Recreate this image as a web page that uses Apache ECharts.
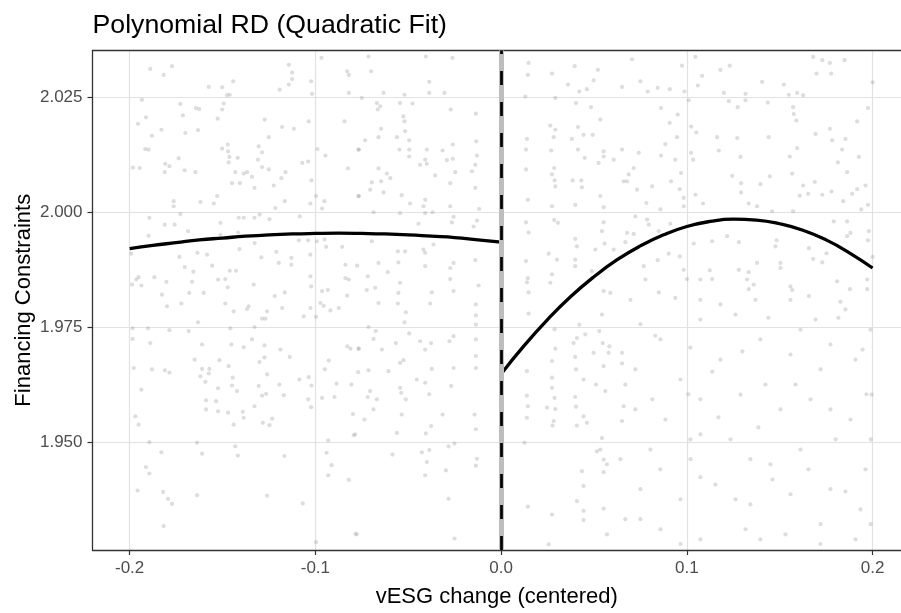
<!DOCTYPE html>
<html>
<head>
<meta charset="utf-8">
<script src="https://cdn.jsdelivr.net/npm/echarts@6/dist/echarts.min.js"></script>
<style>
html,body{margin:0;padding:0;background:#fff;}
#chart{width:901px;height:613px;}
</style>
</head>
<body>
<div id="chart"></div>
<script>
// ---- data ----
const titleText = 'Polynomial RD (Quadratic Fit)';
const xAxisTitle = 'vESG change (centered)';
const yAxisTitle = 'Financing Constraints';
const xTicks = [-0.2, -0.1, 0.0, 0.1, 0.2];
const yTicks = [1.950, 1.975, 2.000, 2.025];
const xRange = [-0.22, 0.2153];   // the panel's right edge is cut off by the image
const yRange = [1.9267, 2.0351];
const cutoff = 0;

const leftFitX = [-0.2, -0.1875, -0.175, -0.1625, -0.15, -0.1375, -0.125, -0.1125, -0.1, -0.0875, -0.075, -0.0625, -0.05, -0.0375, -0.025, -0.0125, 0];
const leftFitY = [1.9921, 1.9928, 1.9934, 1.9940, 1.9944, 1.9948, 1.9951, 1.9953, 1.9954, 1.99545, 1.9954, 1.9953, 1.9951, 1.9948, 1.9945, 1.9940, 1.9935];
const rightFitX = [0, 0.0125, 0.025, 0.0375, 0.05, 0.0625, 0.075, 0.0875, 0.1, 0.1125, 0.125, 0.1375, 0.15, 0.1625, 0.175, 0.1875, 0.2];
const rightFitY = [1.9649, 1.9711, 1.9767, 1.9817, 1.9860, 1.9897, 1.9927, 1.9951, 1.9969, 1.9980, 1.9985, 1.9983, 1.9975, 1.9961, 1.9940, 1.9912, 1.9879];

const scatterPoints = [
[-0.1889,2.0311],[-0.1817,2.0298],[-0.1772,2.0317],[-0.1574,2.0272],[-0.1502,2.0271],[-0.1443,2.0284],[-0.1461,2.0255],[-0.1476,2.0254],
[-0.1143,2.0320],[-0.1125,2.0303],[-0.1125,2.0289],[-0.1143,2.0277],[-0.1192,2.0266],[-0.1023,2.0284],[-0.1018,2.0257],[-0.0967,2.0335],
[-0.0829,2.0306],[-0.0820,2.0298],[-0.0820,2.0259],[-0.1934,2.0244],[-0.1727,2.0235],[-0.1643,2.0226],[-0.1625,2.0224],[-0.1494,2.0236],
[-0.1502,2.0223],[-0.1713,2.0210],[-0.1955,2.0192],[-0.1912,2.0206],[-0.1829,2.0179],[-0.1880,2.0166],[-0.1700,2.0172],[-0.1632,2.0178],
[-0.1526,2.0203],[-0.1273,2.0201],[-0.1179,2.0185],[-0.1116,2.0181],[-0.1036,2.0197],[-0.1251,2.0163],[-0.0843,2.0197],[-0.1898,2.0136],
[-0.1916,2.0137],[-0.1736,2.0117],[-0.1808,2.0105],[-0.1786,2.0100],[-0.1811,2.0087],[-0.1704,2.0091],[-0.1646,2.0087],[-0.1982,2.0097],
[-0.1946,2.0096],[-0.1502,2.0138],[-0.1472,2.0147],[-0.1470,2.0132],[-0.1463,2.0120],[-0.1467,2.0108],[-0.1418,2.0118],[-0.1305,2.0143],
[-0.1287,2.0130],[-0.1309,2.0114],[-0.1287,2.0098],[-0.1251,2.0093],[-0.1431,2.0087],[-0.1386,2.0084],[-0.1368,2.0087],[-0.1341,2.0077],
[-0.1449,2.0063],[-0.1407,2.0063],[-0.1328,2.0053],[-0.1224,2.0058],[-0.1183,2.0074],[-0.1161,2.0087],[-0.1071,2.0107],[-0.1039,2.0110],
[-0.1021,2.0069],[-0.0989,2.0137],[-0.0946,2.0123],[-0.0825,2.0095],[-0.0766,2.0136],[-0.1763,2.0024],[-0.1763,2.0013],[-0.1619,2.0022],
[-0.1547,2.0019],[-0.1529,2.0035],[-0.1215,2.0009],[-0.1165,2.0024],[-0.1027,2.0019],[-0.0996,2.0035],[-0.0951,2.0024],[-0.0964,2.0008],
[-0.0766,2.0035],[-0.1894,1.9988],[-0.1811,1.9973],[-0.1758,1.9973],[-0.1727,1.9996],[-0.1686,1.9959],[-0.1511,1.9977],[-0.1413,1.9988],
[-0.1386,1.9988],[-0.1328,1.9988],[-0.1300,1.9995],[-0.1247,1.9985],[-0.1084,1.9991],[-0.1898,1.9949],[-0.1511,1.9951],[-0.1416,1.9956],
[-0.1327,1.9933],[-0.1089,1.9939],[-0.1039,1.9939],[-0.0992,1.9937],[-0.0951,1.9941],[-0.0942,1.9925],[-0.0856,1.9925],[-0.1991,1.9910],
[-0.1732,1.9903],[-0.1635,1.9912],[-0.1583,1.9908],[-0.1409,1.9920],[-0.1291,1.9902],[-0.1210,1.9914],[-0.1197,1.9890],[-0.1129,1.9901],
[-0.1129,1.9886],[-0.1027,1.9908],[-0.0838,1.9886],[-0.0775,1.9884],[-0.1704,1.9881],[-0.1657,1.9871],[-0.1556,1.9884],[-0.1461,1.9873],
[-0.1427,1.9873],[-0.1952,1.9859],[-0.1964,1.9854],[-0.1867,1.9859],[-0.1802,1.9849],[-0.1664,1.9849],[-0.1524,1.9854],[-0.1485,1.9855],
[-0.1987,1.9843],[-0.1937,1.9841],[-0.1826,1.9821],[-0.1679,1.9825],[-0.1601,1.9825],[-0.1472,1.9837],[-0.1332,1.9843],[-0.1219,1.9818],
[-0.1165,1.9826],[-0.1027,1.9861],[-0.1023,1.9839],[-0.0964,1.9829],[-0.0933,1.9831],[-0.0838,1.9857],[-0.0820,1.9854],[-0.0829,1.9819],
[-0.0714,2.0338],[-0.0700,2.0306],[-0.0405,2.0338],[-0.0262,2.0335],[-0.0387,2.0283],[-0.0633,2.0259],[-0.0520,2.0255],[-0.0387,2.0259],
[-0.0305,2.0259],[-0.0750,2.0248],[-0.0669,2.0237],[-0.0651,2.0230],[-0.0664,2.0223],[-0.0544,2.0237],[-0.0477,2.0236],[-0.0271,2.0223],
[-0.0136,2.0214],[-0.0526,2.0208],[-0.0520,2.0197],[-0.0646,2.0181],[-0.0660,2.0163],[-0.0732,2.0156],[-0.0561,2.0163],[-0.0517,2.0176],
[-0.0495,2.0156],[-0.0134,2.0154],[-0.0260,2.0147],[-0.0768,2.0136],[-0.0547,2.0136],[-0.0495,2.0136],[-0.0400,2.0136],[-0.0315,2.0134],
[-0.0495,2.0121],[-0.0409,2.0114],[-0.0292,2.0113],[-0.0260,2.0116],[-0.0130,2.0123],[-0.0660,2.0095],[-0.0615,2.0084],[-0.0597,2.0074],
[-0.0696,2.0065],[-0.0646,2.0067],[-0.0436,2.0103],[-0.0400,2.0105],[-0.0355,2.0080],[-0.0247,2.0087],[-0.0274,2.0063],[-0.0139,2.0103],
[-0.0157,2.0089],[-0.0705,2.0049],[-0.0633,2.0043],[-0.0535,2.0037],[-0.0768,2.0035],[-0.0490,2.0019],[-0.0409,2.0027],[-0.0418,2.0013],
[-0.0274,2.0013],[-0.0139,2.0053],[-0.0118,2.0007],[-0.0687,2.0000],[-0.0544,1.9998],[-0.0409,1.9998],[-0.0369,2.0000],[-0.0445,1.9975],
[-0.0265,1.9978],[-0.0256,1.9990],[-0.0148,1.9969],[-0.0130,1.9982],[-0.0696,1.9937],[-0.0517,1.9915],[-0.0418,1.9919],[-0.0409,1.9912],
[-0.0364,1.9930],[-0.0556,1.9915],[-0.0660,1.9890],[-0.0553,1.9891],[-0.0409,1.9883],[-0.0256,1.9890],[-0.0274,1.9879],[-0.0139,1.9896],
[-0.0718,1.9861],[-0.0610,1.9870],[-0.0544,1.9847],[-0.0678,1.9836],[-0.0723,1.9831],[-0.0553,1.9825],[-0.0373,1.9826],[-0.0256,1.9829],
[-0.0121,1.9841],[-0.0274,1.9855],
[0.0148,2.0324],[0.0144,2.0298],[0.0274,2.0301],[0.0396,2.0317],[0.0521,2.0309],[0.0498,2.0286],[0.0360,2.0277],[0.0421,2.0262],
[0.0462,2.0267],[0.0651,2.0272],[0.0130,2.0251],[0.0292,2.0248],[0.0403,2.0237],[0.0484,2.0228],[0.0534,2.0201],[0.0265,2.0188],
[0.0292,2.0179],[0.0414,2.0185],[0.0444,2.0168],[0.0493,2.0168],[0.0139,2.0159],[0.0283,2.0163],[0.0381,2.0159],[0.0134,2.0136],
[0.0270,2.0134],[0.0414,2.0136],[0.0450,2.0118],[0.0552,2.0132],[0.0552,2.0121],[0.0525,2.0107],[0.0606,2.0114],[0.0651,2.0136],
[0.0134,2.0093],[0.0286,2.0096],[0.0274,2.0082],[0.0288,2.0069],[0.0292,2.0056],[0.0385,2.0069],[0.0432,2.0069],[0.0435,2.0054],
[0.0660,2.0067],[0.0144,2.0027],[0.0274,2.0013],[0.0399,2.0016],[0.0534,2.0035],[0.0552,2.0011],[0.0134,1.9978],[0.0148,1.9956],
[0.0286,1.9983],[0.0306,1.9977],[0.0399,1.9942],[0.0543,1.9959],[0.0552,1.9978],[0.0507,1.9919],[0.0408,1.9926],[0.0256,1.9910],
[0.0301,1.9897],[0.0399,1.9897],[0.0557,1.9932],[0.0606,1.9919],[0.0134,1.9894],[0.0144,1.9857],[0.0139,1.9848],[0.0148,1.9826],
[0.0274,1.9865],[0.0265,1.9847],[0.0399,1.9883],[0.0489,1.9872],[0.0588,1.9825],[0.0552,1.9829],
[0.0705,2.0332],[0.0974,2.0318],[0.1046,2.0337],[0.1181,2.0309],[0.1231,2.0318],[0.1082,2.0296],[0.1059,2.0275],[0.0750,2.0284],
[0.0843,2.0270],[0.0908,2.0267],[0.0789,2.0262],[0.0987,2.0262],[0.1199,2.0259],[0.1316,2.0257],[0.1405,2.0283],[0.1522,2.0277],
[0.1680,2.0337],[0.1729,2.0330],[0.1770,2.0324],[0.1849,2.0330],[0.1698,2.0301],[0.1777,2.0301],[0.1549,2.0255],[0.1594,2.0259],
[0.1626,2.0254],[0.2000,2.0282],[0.1010,2.0243],[0.1226,2.0241],[0.1316,2.0243],[0.1274,2.0228],[0.1436,2.0238],[0.1572,2.0228],
[0.1576,2.0213],[0.1590,2.0199],[0.0861,2.0226],[0.0951,2.0212],[0.0908,2.0194],[0.1917,2.0197],[0.1975,2.0226],[0.1770,2.0181],
[0.1023,2.0186],[0.1051,2.0173],[0.1163,2.0163],[0.1271,2.0161],[0.1441,2.0163],[0.1693,2.0170],[0.1782,2.0156],[0.1854,2.0159],
[0.0947,2.0163],[0.0884,2.0148],[0.0741,2.0129],[0.0861,2.0123],[0.0938,2.0114],[0.1023,2.0129],[0.1034,2.0114],[0.1172,2.0134],
[0.1289,2.0120],[0.1554,2.0121],[0.1594,2.0139],[0.1836,2.0136],[0.1926,2.0120],[0.0714,2.0096],[0.0687,2.0082],[0.0678,2.0067],
[0.0969,2.0085],[0.1244,2.0079],[0.1447,2.0078],[0.1567,2.0084],[0.1813,2.0108],[0.1863,2.0087],[0.0732,2.0049],[0.0813,2.0056],
[0.0915,2.0067],[0.0962,2.0050],[0.1046,2.0038],[0.0983,2.0031],[0.1292,2.0063],[0.1292,2.0043],[0.1396,2.0061],[0.1626,2.0058],
[0.1689,2.0066],[0.1608,2.0036],[0.1653,2.0040],[0.1729,2.0038],[0.1779,2.0045],[0.1890,2.0040],[0.1917,2.0050],[0.1962,2.0058],
[0.1975,2.0016],[0.1842,2.0024],[0.0782,2.0020],[0.0858,2.0006],[0.0983,2.0013],[0.1087,2.0019],[0.1333,2.0019],[0.1378,2.0013],
[0.1459,2.0002],[0.1572,2.0002],[0.1939,2.0006],[0.0723,1.9991],[0.0786,1.9984],[0.0795,1.9973],[0.0911,1.9975],[0.0849,1.9959],
[0.0678,1.9955],[0.0714,1.9953],[0.1791,1.9980],[0.1863,1.9980],[0.1980,1.9959],[0.1975,1.9939],[0.1037,1.9932],[0.1136,1.9937],
[0.1217,1.9948],[0.1280,1.9935],[0.1477,1.9926],[0.1483,1.9939],[0.1657,1.9922],[0.1752,1.9911],[0.1863,1.9948],[0.1881,1.9955],
[0.0669,1.9935],[0.0768,1.9883],[0.0843,1.9896],[0.0902,1.9910],[0.0962,1.9904],[0.0983,1.9875],[0.1001,1.9855],[0.0777,1.9854],
[0.1123,1.9874],[0.1136,1.9855],[0.1280,1.9875],[0.1333,1.9870],[0.1378,1.9890],[0.1504,1.9890],[0.1504,1.9879],[0.1680,1.9899],
[0.1729,1.9891],[0.1809,1.9850],[0.1878,1.9833],[0.1971,1.9854],[0.2000,1.9903],[0.1073,1.9854],[0.1324,1.9854],[0.1333,1.9833],
[0.1360,1.9843],[0.1558,1.9839],[0.1567,1.9831],[0.1657,1.9818],[0.0849,1.9826],[0.0938,1.9814],[0.1971,1.9833],
[-0.1799,1.9796],[-0.1722,1.9802],[-0.1485,1.9802],[-0.1440,1.9785],[-0.1359,1.9796],[-0.1368,1.9790],[-0.1260,1.9785],[-0.1179,1.9792],
[-0.1287,1.9769],[-0.1269,1.9769],[-0.1063,1.9774],[-0.1027,1.9792],[-0.0973,1.9803],[-0.0955,1.9797],[-0.0919,1.9787],[-0.0874,1.9792],
[-0.0996,1.9773],[-0.1632,1.9761],[-0.1984,1.9748],[-0.1901,1.9748],[-0.1786,1.9744],[-0.1682,1.9742],[-0.1458,1.9748],[-0.1328,1.9751],
[-0.1984,1.9725],[-0.1889,1.9716],[-0.1610,1.9713],[-0.1452,1.9713],[-0.1386,1.9707],[-0.1341,1.9724],[-0.1274,1.9711],[-0.1188,1.9702],
[-0.0829,1.9709],[-0.0811,1.9704],[-0.0766,1.9704],[-0.1650,1.9680],[-0.1517,1.9679],[-0.1467,1.9666],[-0.1301,1.9675],[-0.1274,1.9685],
[-0.1138,1.9686],[-0.0928,1.9678],[-0.1978,1.9662],[-0.1880,1.9659],[-0.1811,1.9657],[-0.1786,1.9652],[-0.1610,1.9660],[-0.1571,1.9660],
[-0.1619,1.9644],[-0.1592,1.9632],[-0.1574,1.9650],[-0.1445,1.9641],[-0.1449,1.9624],[-0.1422,1.9612],[-0.1524,1.9618],[-0.1305,1.9623],
[-0.1287,1.9602],[-0.1265,1.9606],[-0.1260,1.9648],[-0.1194,1.9626],[-0.1170,1.9603],[-0.1086,1.9637],[-0.1036,1.9642],[-0.1021,1.9624],
[-0.0949,1.9659],[-0.0886,1.9628],[-0.0806,1.9626],[-0.0770,1.9653],[-0.1937,1.9615],[-0.1589,1.9592],[-0.1535,1.9590],[-0.1524,1.9568],
[-0.1470,1.9565],[-0.1589,1.9572],[-0.1391,1.9567],[-0.1386,1.9554],[-0.1440,1.9539],[-0.1328,1.9579],[-0.1283,1.9543],[-0.1247,1.9538],
[-0.1233,1.9552],[-0.1039,1.9594],[-0.1023,1.9577],[-0.0964,1.9597],[-0.0897,1.9599],[-0.0798,1.9562],[-0.1969,1.9557],[-0.1952,1.9539],
[-0.1894,1.9501],[-0.1829,1.9479],[-0.1637,1.9500],[-0.1610,1.9476],[-0.1431,1.9492],[-0.1418,1.9472],[-0.1167,1.9471],[-0.0931,1.9505],
[-0.0940,1.9478],[-0.0793,1.9516],[-0.0913,1.9451],[-0.0931,1.9429],[-0.0820,1.9419],[-0.1912,1.9447],[-0.1894,1.9433],[-0.1957,1.9396],
[-0.1820,1.9393],[-0.1793,1.9378],[-0.1772,1.9367],[-0.1637,1.9386],[-0.1260,1.9385],[-0.1068,1.9368],[-0.1817,1.9319],[-0.0996,1.9284],
[-0.0784,1.9302],
[-0.0660,1.9803],[-0.0556,1.9802],[-0.0382,1.9802],[-0.0136,1.9800],[-0.0513,1.9783],[-0.0520,1.9761],[-0.0136,1.9776],[-0.0136,1.9756],
[-0.0714,1.9751],[-0.0675,1.9742],[-0.0495,1.9737],[-0.0687,1.9725],[-0.0567,1.9716],[-0.0436,1.9720],[-0.0409,1.9702],[-0.0377,1.9716],
[-0.0278,1.9720],[-0.0256,1.9731],[-0.0136,1.9724],[-0.0768,1.9704],[-0.0642,1.9702],[-0.0544,1.9673],[-0.0526,1.9679],[-0.0714,1.9657],
[-0.0606,1.9655],[-0.0373,1.9660],[-0.0256,1.9662],[-0.0136,1.9688],[-0.0136,1.9662],[-0.0454,1.9637],[-0.0409,1.9630],[-0.0269,1.9623],
[-0.0705,1.9612],[-0.0718,1.9599],[-0.0669,1.9594],[-0.0544,1.9619],[-0.0538,1.9608],[-0.0513,1.9594],[-0.0387,1.9605],[-0.0687,1.9572],
[-0.0736,1.9550],[-0.0535,1.9561],[-0.0315,1.9561],[-0.0143,1.9561],[-0.0561,1.9521],[-0.0405,1.9520],[-0.0377,1.9536],[-0.0136,1.9529],
[-0.0786,1.9518],[-0.0585,1.9474],[-0.0427,1.9479],[-0.0387,1.9484],[-0.0400,1.9458],[-0.0283,1.9492],[-0.0251,1.9498],[-0.0130,1.9465],
[-0.0136,1.9450],[-0.0297,1.9440],[-0.0409,1.9429],[-0.0283,1.9378],[-0.0777,1.9301],[-0.0251,1.9292],
[0.0148,1.9780],[0.0288,1.9746],[0.0453,1.9735],[0.0421,1.9756],[0.0529,1.9742],[0.0543,1.9778],[0.0390,1.9716],[0.0408,1.9727],
[0.0547,1.9716],[0.0583,1.9709],[0.0579,1.9695],[0.0292,1.9704],[0.0274,1.9677],[0.0498,1.9695],[0.0552,1.9666],[0.0651,1.9695],
[0.0651,1.9672],[0.0139,1.9655],[0.0399,1.9686],[0.0403,1.9659],[0.0444,1.9637],[0.0511,1.9626],[0.0274,1.9641],[0.0274,1.9619],
[0.0288,1.9597],[0.0139,1.9602],[0.0144,1.9579],[0.0139,1.9554],[0.0247,1.9576],[0.0292,1.9573],[0.0399,1.9599],[0.0403,1.9578],
[0.0444,1.9557],[0.0462,1.9543],[0.0408,1.9537],[0.0561,1.9612],[0.0660,1.9579],[0.0651,1.9547],[0.0283,1.9547],[0.0277,1.9537],
[0.0126,1.9500],[0.0543,1.9510],[0.0534,1.9485],[0.0516,1.9481],[0.0552,1.9463],[0.0570,1.9453],[0.0435,1.9438],[0.0552,1.9436],
[0.0444,1.9406],[0.0408,1.9373],[0.0444,1.9352],[0.0444,1.9332],[0.0552,1.9357],[0.0274,1.9344],[0.0144,1.9361],[0.0570,1.9301],
[0.0256,1.9279],
[0.0750,1.9757],[0.0858,1.9724],[0.1073,1.9767],[0.1181,1.9800],[0.1369,1.9810],[0.1558,1.9810],[0.1693,1.9767],[0.1854,1.9789],
[0.1989,1.9745],[0.0723,1.9659],[0.0966,1.9637],[0.1181,1.9680],[0.1396,1.9724],[0.1558,1.9691],[0.1720,1.9659],[0.1908,1.9680],
[0.0723,1.9572],[0.0885,1.9550],[0.1073,1.9594],[0.1289,1.9604],[0.1504,1.9572],[0.1666,1.9594],[0.1881,1.9550],[0.1995,1.9604],
[0.0804,1.9485],[0.1020,1.9464],[0.1235,1.9507],[0.1450,1.9453],[0.1612,1.9485],[0.1801,1.9507],[0.1962,1.9442],[0.0750,1.9399],
[0.0966,1.9377],[0.1154,1.9409],[0.1342,1.9366],[0.1558,1.9388],[0.1773,1.9399],[0.1935,1.9355],[0.0858,1.9312],[0.1073,1.9290],
[0.1316,1.9312],[0.1531,1.9301],[0.1720,1.9323],[0.1908,1.9290],[0.1262,1.9778],[0.1423,1.9626],[0.1773,1.9713],[0.1073,1.9518],
[0.1990,1.9507],[0.0642,1.9464],[0.0669,1.9334],
[0.0830,1.9732],[0.1019,1.9706],[0.1137,1.9654],[0.1299,1.9698],[0.1439,1.9771],[0.1612,1.9745],[0.1816,1.9771],[0.1946,1.9702],
[0.0814,1.9594],[0.1008,1.9605],[0.1170,1.9555],[0.1385,1.9533],[0.1585,1.9626],[0.1773,1.9572],[0.1967,1.9605],[0.0857,1.9442],
[0.1073,1.9425],[0.1262,1.9377],[0.1461,1.9420],[0.1655,1.9442],[0.1854,1.9394],[0.0750,1.9334],[0.0966,1.9280],[0.1396,1.9290],
[0.1719,1.9280],[0.1989,1.9323],[0.0696,1.9810],[0.1073,1.9810],[0.1827,1.9806],[0.0669,1.9626],[0.1342,1.9464],[0.1019,1.9507]
];

// ---- chart ----
const FONT = '"Liberation Sans", Arial, Helvetica, sans-serif';
const zipPairs = (xs, ys) => xs.map((x, i) => [x, ys[i]]);
const BORDER = {color: '#333333', width: 1.3};

const chart = echarts.init(document.getElementById('chart'), null, {renderer: 'canvas'});
chart.setOption({
  animation: false,
  backgroundColor: '#ffffff',
  title: {
    text: titleText,
    left: 92.5,
    top: 12,
    padding: 0,
    textStyle: {fontFamily: FONT, fontSize: 26.7, fontWeight: 'normal', color: '#000'}
  },
  grid: {
    left: 92.5, right: 0, top: 50.5, bottom: 62.3,
    show: false
  },
  xAxis: [
    {
      type: 'value',
      min: xRange[0], max: xRange[1],
      name: xAxisTitle,
      nameLocation: 'middle',
      nameGap: 36,
      nameMoveOverlap: false,
      nameTextStyle: {fontFamily: FONT, fontSize: 22, color: '#000'},
      axisLine: {show: true, onZero: false, lineStyle: BORDER},
      axisTick: {show: true, length: 5, customValues: xTicks, lineStyle: {color: '#333333', width: 1.2}},
      axisLabel: {
        customValues: xTicks, margin: 10,
        fontFamily: FONT, fontSize: 17, color: '#4d4d4d',
        formatter: v => v.toFixed(1)
      },
      splitLine: {show: true, lineStyle: {color: '#e2e2e2', width: 1.2}}
    },
    {
      type: 'value',
      position: 'top',
      min: xRange[0], max: xRange[1],
      axisLine: {show: true, onZero: false, lineStyle: BORDER},
      axisTick: {show: false},
      axisLabel: {show: false},
      splitLine: {show: false}
    }
  ],
  yAxis: {
    type: 'value',
    min: yRange[0], max: yRange[1],
    name: yAxisTitle,
    nameLocation: 'middle',
    nameGap: 58,
    nameMoveOverlap: false,
    nameTextStyle: {fontFamily: FONT, fontSize: 22, color: '#000'},
    axisLine: {show: true, onZero: false, lineStyle: BORDER},
    axisTick: {show: true, length: 5, customValues: yTicks, lineStyle: {color: '#333333', width: 1.2}},
    axisLabel: {
      customValues: yTicks, margin: 10,
      fontFamily: FONT, fontSize: 17, color: '#4d4d4d',
      formatter: v => v.toFixed(3)
    },
    splitLine: {show: true, lineStyle: {color: '#e2e2e2', width: 1.2}}
  },
  series: [
    {
      type: 'scatter',
      data: scatterPoints,
      symbol: 'circle',
      symbolSize: 4.2,
      itemStyle: {color: 'rgba(150,150,150,0.4)'},
      silent: true,
      z: 1
    },
    {
      type: 'line',
      data: [],
      silent: true,
      z: 2,
      markLine: {
        silent: true, symbol: 'none', animation: false,
        label: {show: false},
        lineStyle: {color: '#bdbdbd', width: 5, type: 'solid'},
        data: [{xAxis: cutoff}]
      }
    },
    {
      type: 'line',
      data: zipPairs(leftFitX, leftFitY),
      smooth: true,
      showSymbol: false,
      lineStyle: {color: '#000', width: 3.3},
      silent: true,
      z: 4
    },
    {
      type: 'line',
      data: zipPairs(rightFitX, rightFitY),
      smooth: true,
      showSymbol: false,
      lineStyle: {color: '#000', width: 3.3},
      silent: true,
      z: 4
    },
    {
      type: 'line',
      data: [],
      silent: true,
      z: 5,
      markLine: {
        silent: true, symbol: 'none', animation: false,
        label: {show: false},
        lineStyle: {color: '#000', width: 2.7, type: [14, 17], cap: 'butt'},
        data: [{xAxis: cutoff}]
      }
    }
  ]
});
</script>
</body>
</html>
